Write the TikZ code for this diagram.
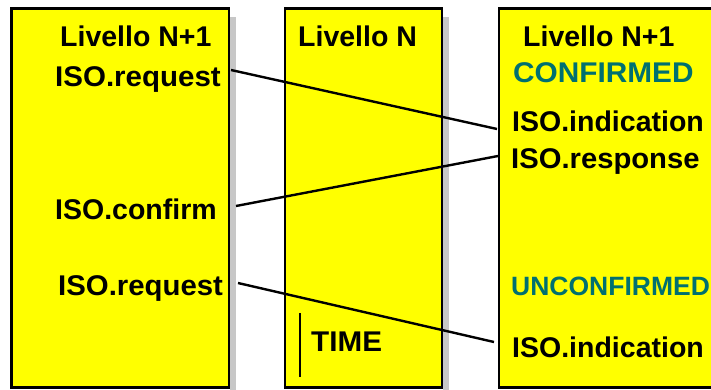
\documentclass[tikz,border=0pt]{standalone}
\usepackage{fontspec}
\setmainfont{Liberation Sans}
\definecolor{tealtxt}{RGB}{0,112,112}
\definecolor{yel}{RGB}{255,255,0}
\begin{document}
\begin{tikzpicture}[x=1pt,y=-1pt,
  panel/.style={draw=black, line width=2.5pt, fill=yel, inner sep=0pt, outer sep=0pt, anchor=north west},
  shadowbar/.style={fill=black!22},
  lbl/.style={anchor=base west, inner sep=0pt, font=\fontsize{28.5}{34}\selectfont\bfseries},
  tlbl/.style={lbl, text=tealtxt},
  wide/.style={xscale=#1, transform shape},
  conn/.style={line width=2.4pt}]
\useasboundingbox (0,0) rectangle (711,390);
\clip (0,0) rectangle (711,390);
\fill[white] (0,0) rectangle (711,390);
% shadows
\fill[shadowbar] (230,17) rectangle (236,392);
\fill[shadowbar] (443,17) rectangle (449,392);
% panels
\node[panel, minimum width=217.5pt, minimum height=379pt] (p1) at (11.5,8.5) {};
\node[panel, minimum width=157pt, minimum height=379pt] (p2) at (285,8.5) {};
\node[panel, minimum width=230pt, minimum height=379pt] (p3) at (499,8.5) {};
% texts panel 1
\node[lbl] (l1) at (60,47) {Livello N+1};
\node[lbl, wide=1.035] (req1) at (55,87) {ISO.request};
\node[lbl] (conf) at (55,219) {ISO.confirm};
\node[lbl, wide=1.03] (req2) at (58,295) {ISO.request};
% panel 2
\node[lbl] (l2) at (298,47) {Livello N};
\node[lbl, wide=1.04] (time) at (311,351) {TIME};
% panel 3
\node[lbl] (l3) at (523,47) {Livello N+1};
\node[tlbl, wide=1.045] (cf) at (513,83) {CONFIRMED};
\node[lbl] (ind1) at (512,132) {ISO.indication};
\node[lbl, wide=1.025] (resp) at (511,168) {ISO.response};
\node[tlbl, font=\fontsize{26.5}{32}\selectfont\bfseries] (ucf) at (511,295) {UNCONFIRMED};
\node[lbl] (ind2) at (512,357) {ISO.indication};
% connector endpoints
\coordinate (a1) at (231,70);
\coordinate (b1) at (497,129);
\coordinate (a2) at (236,206);
\coordinate (b2) at (498,156);
\coordinate (a3) at (238,283);
\coordinate (b3) at (494,342);
\coordinate (t1) at (300,313);
\coordinate (t2) at (300,377);
\draw[conn] (a1) -- (b1);
\draw[conn] (a2) -- (b2);
\draw[conn] (a3) -- (b3);
\draw[conn] (t1) -- (t2);
\end{tikzpicture}
\end{document}
